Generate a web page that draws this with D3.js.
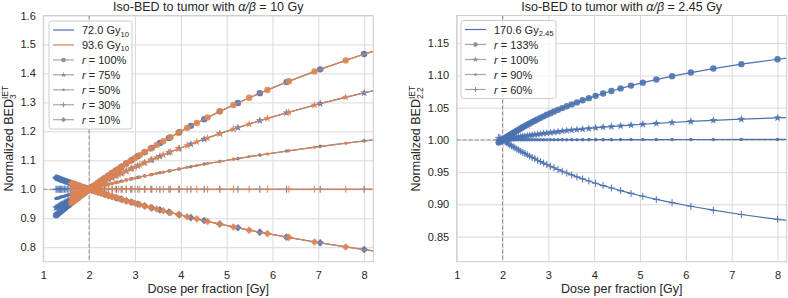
<!DOCTYPE html>
<html>
<head>
<meta charset="utf-8">
<script src="https://cdn.jsdelivr.net/npm/d3@7"></script>
<style>
  body { margin: 0; background: #fff; }
  svg { display: block; font-family: "Liberation Sans", Arial, sans-serif; }
</style>
</head>
<body>
<svg id="chart" width="788" height="298"></svg>
<script>
// ---- data ----
var xTicks = [1, 2, 3, 4, 5, 6, 7, 8];
var yTicksLeft = [0.8, 0.9, 1.0, 1.1, 1.2, 1.3, 1.4, 1.5, 1.6];
var yTicksRight = [0.85, 0.90, 0.95, 1.00, 1.05, 1.10, 1.15];

// left panel, 72.0 Gy10 schedule (dose per fraction of each marker)
var blueDose = [9.318, 8.000, 7.042, 6.307, 5.724, 5.247, 4.849, 4.511, 4.220, 3.966, 3.742, 3.544, 3.367, 3.207, 3.062, 2.931,
  2.810, 2.700, 2.598, 2.504, 2.416, 2.335, 2.259, 2.188, 2.121, 2.059, 2.000, 1.945, 1.892, 1.842, 1.795, 1.751,
  1.708, 1.668, 1.629, 1.593, 1.557, 1.524, 1.492, 1.461, 1.431, 1.403, 1.376, 1.350, 1.325, 1.300, 1.277];
var blueR100 = [1.530, 1.467, 1.414, 1.370, 1.332, 1.298, 1.269, 1.242, 1.219, 1.197, 1.177, 1.160, 1.143, 1.128, 1.114, 1.101,
  1.089, 1.077, 1.066, 1.056, 1.047, 1.038, 1.030, 1.022, 1.014, 1.007, 1.000, 0.994, 0.987, 0.981, 0.976, 0.970,
  0.965, 0.960, 0.955, 0.951, 0.946, 0.942, 0.938, 0.934, 0.930, 0.927, 0.923, 0.920, 0.916, 0.913, 0.910];
var blueR75 = [1.379, 1.333, 1.296, 1.264, 1.237, 1.213, 1.192, 1.173, 1.156, 1.141, 1.127, 1.114, 1.102, 1.091, 1.081, 1.072,
  1.063, 1.055, 1.047, 1.040, 1.034, 1.027, 1.021, 1.015, 1.010, 1.005, 1.000, 0.995, 0.991, 0.987, 0.983, 0.979,
  0.975, 0.972, 0.968, 0.965, 0.962, 0.959, 0.956, 0.953, 0.950, 0.948, 0.945, 0.943, 0.940, 0.938, 0.936];
var blueR50 = [1.189, 1.167, 1.148, 1.132, 1.118, 1.106, 1.096, 1.087, 1.078, 1.070, 1.063, 1.057, 1.051, 1.046, 1.041, 1.036,
  1.032, 1.028, 1.024, 1.020, 1.017, 1.014, 1.011, 1.008, 1.005, 1.002, 1.000, 0.998, 0.995, 0.993, 0.991, 0.989,
  0.988, 0.986, 0.984, 0.982, 0.981, 0.979, 0.978, 0.976, 0.975, 0.974, 0.973, 0.971, 0.970, 0.969, 0.968];
var blueR30 = [1, 1, 1, 1, 1, 1, 1, 1, 1, 1, 1, 1, 1, 1, 1, 1,
  1, 1, 1, 1, 1, 1, 1, 1, 1, 1, 1, 1, 1, 1, 1, 1,
  1, 1, 1, 1, 1, 1, 1, 1, 1, 1, 1, 1, 1, 1, 1];
var blueR10 = [0.763, 0.792, 0.815, 0.835, 0.852, 0.867, 0.880, 0.892, 0.902, 0.912, 0.921, 0.929, 0.936, 0.943, 0.949, 0.955,
  0.960, 0.966, 0.970, 0.975, 0.979, 0.983, 0.987, 0.990, 0.994, 0.997, 1.000, 1.003, 1.006, 1.008, 1.011, 1.013,
  1.016, 1.018, 1.020, 1.022, 1.024, 1.026, 1.028, 1.029, 1.031, 1.033, 1.034, 1.036, 1.037, 1.039, 1.040];

// left panel, 93.6 Gy10 schedule
var orangeDose = [8.454, 7.598, 6.916, 6.358, 5.890, 5.492, 5.149, 4.849, 4.584, 4.349, 4.138, 3.948, 3.775, 3.618, 3.474,
  3.341, 3.219, 3.105, 3.000, 2.902, 2.810, 2.724, 2.644, 2.568, 2.497, 2.429, 2.366, 2.305, 2.248, 2.193,
  2.141, 2.092, 2.045, 2.000, 1.957, 1.916, 1.877, 1.839, 1.802, 1.768, 1.734, 1.702, 1.671, 1.641, 1.612];
var orangeR100 = [1.490, 1.445, 1.407, 1.373, 1.343, 1.316, 1.291, 1.269, 1.248, 1.229, 1.212, 1.195, 1.180, 1.166, 1.153,
  1.141, 1.129, 1.118, 1.108, 1.098, 1.089, 1.080, 1.071, 1.063, 1.056, 1.048, 1.041, 1.035, 1.028, 1.022,
  1.016, 1.011, 1.005, 1.000, 0.995, 0.990, 0.985, 0.981, 0.977, 0.972, 0.968, 0.964, 0.961, 0.957, 0.953];
var orangeR75 = [1.350, 1.318, 1.291, 1.266, 1.245, 1.225, 1.208, 1.192, 1.177, 1.164, 1.151, 1.140, 1.129, 1.119, 1.109,
  1.101, 1.092, 1.084, 1.077, 1.070, 1.063, 1.057, 1.051, 1.045, 1.040, 1.035, 1.030, 1.025, 1.020, 1.016,
  1.012, 1.008, 1.004, 1.000, 0.996, 0.993, 0.990, 0.986, 0.983, 0.980, 0.977, 0.975, 0.972, 0.969, 0.967];
var orangeR50 = [1.175, 1.159, 1.145, 1.133, 1.122, 1.113, 1.104, 1.096, 1.089, 1.082, 1.076, 1.070, 1.064, 1.059, 1.055,
  1.050, 1.046, 1.042, 1.038, 1.035, 1.032, 1.028, 1.025, 1.023, 1.020, 1.017, 1.015, 1.012, 1.010, 1.008,
  1.006, 1.004, 1.002, 1.000, 0.998, 0.996, 0.995, 0.993, 0.992, 0.990, 0.989, 0.987, 0.986, 0.985, 0.983];
var orangeR30 = [1, 1, 1, 1, 1, 1, 1, 1, 1, 1, 1, 1, 1, 1, 1,
  1, 1, 1, 1, 1, 1, 1, 1, 1, 1, 1, 1, 1, 1, 1,
  1, 1, 1, 1, 1, 1, 1, 1, 1, 1, 1, 1, 1, 1, 1];
var orangeR10 = [0.781, 0.801, 0.818, 0.834, 0.847, 0.859, 0.870, 0.880, 0.889, 0.898, 0.905, 0.913, 0.919, 0.926, 0.932,
  0.937, 0.942, 0.947, 0.952, 0.956, 0.960, 0.964, 0.968, 0.972, 0.975, 0.978, 0.982, 0.985, 0.987, 0.990,
  0.993, 0.995, 0.998, 1.000, 1.002, 1.004, 1.006, 1.009, 1.010, 1.012, 1.014, 1.016, 1.018, 1.019, 1.021];

// right panel, 170.6 Gy2.45 schedule
var rightDose = [9.070, 8.000, 7.211, 6.599, 6.109, 5.699, 5.355, 5.060, 4.803, 4.576, 4.375, 4.194, 4.031, 3.883, 3.747, 3.623,
  3.508, 3.401, 3.303, 3.210, 3.124, 3.043, 2.967, 2.896, 2.828, 2.764, 2.704, 2.646, 2.591, 2.539, 2.489, 2.441,
  2.396, 2.352, 2.311, 2.270, 2.232, 2.195, 2.159, 2.125, 2.092, 2.060, 2.029, 1.999, 1.970, 1.942, 1.915];
var rightR133 = [1.1337, 1.1251, 1.1175, 1.1107, 1.1045, 1.0989, 1.0936, 1.0888, 1.0842, 1.0799, 1.0758, 1.0719, 1.0683, 1.0648, 1.0614, 1.0582,
  1.0551, 1.0522, 1.0493, 1.0466, 1.0440, 1.0414, 1.0389, 1.0365, 1.0342, 1.0319, 1.0298, 1.0276, 1.0256, 1.0235, 1.0216, 1.0197,
  1.0178, 1.0160, 1.0142, 1.0125, 1.0108, 1.0091, 1.0075, 1.0060, 1.0044, 1.0029, 1.0014, 1.0000, 0.9985, 0.9971, 0.9958];
var rightR100 = [1.0365, 1.0342, 1.0321, 1.0303, 1.0286, 1.0270, 1.0256, 1.0243, 1.0230, 1.0218, 1.0207, 1.0197, 1.0187, 1.0177, 1.0168, 1.0159,
  1.0151, 1.0143, 1.0135, 1.0127, 1.0120, 1.0113, 1.0106, 1.0100, 1.0093, 1.0087, 1.0081, 1.0076, 1.0070, 1.0064, 1.0059, 1.0054,
  1.0049, 1.0044, 1.0039, 1.0034, 1.0030, 1.0025, 1.0021, 1.0016, 1.0012, 1.0008, 1.0004, 1.0000, 0.9996, 0.9992, 0.9988];
var rightR90 = [1.0008, 1.0007, 1.0007, 1.0006, 1.0006, 1.0006, 1.0005, 1.0005, 1.0005, 1.0005, 1.0004, 1.0004, 1.0004, 1.0004, 1.0004, 1.0003,
  1.0003, 1.0003, 1.0003, 1.0003, 1.0003, 1.0002, 1.0002, 1.0002, 1.0002, 1.0002, 1.0002, 1.0002, 1.0001, 1.0001, 1.0001, 1.0001,
  1.0001, 1.0001, 1.0001, 1.0001, 1.0001, 1.0001, 1.0000, 1.0000, 1.0000, 1.0000, 1.0000, 1.0000, 1.0000, 1.0000, 1.0000];
var rightR60 = [0.8682, 0.8767, 0.8842, 0.8909, 0.8970, 0.9026, 0.9077, 0.9125, 0.9170, 0.9213, 0.9253, 0.9291, 0.9327, 0.9362, 0.9395, 0.9426,
  0.9457, 0.9486, 0.9514, 0.9541, 0.9567, 0.9592, 0.9617, 0.9640, 0.9663, 0.9685, 0.9707, 0.9728, 0.9748, 0.9768, 0.9788, 0.9806,
  0.9825, 0.9843, 0.9860, 0.9877, 0.9894, 0.9910, 0.9926, 0.9941, 0.9957, 0.9972, 0.9986, 1.0001, 1.0015, 1.0028, 1.0042];

var blue = "#4c72b0",
    orange = "#dd8452",
    gridColor = "#d9d9d9",
    textColor = "#262626",
    legendGray = "#a6a6a6";

var svg = d3.select("#chart");

// marker shapes, centred on 0,0
function markerPath(type, k) {
    k = k || 1;
    if (type == "o") return d3.symbol().type(d3.symbolCircle).size(Math.PI * Math.pow(3.2 * k, 2))();
    if (type == ".") return d3.symbol().type(d3.symbolCircle).size(Math.PI * Math.pow(1.8 * k, 2))();
    if (type == "D") {
        var h = 3.8 * k;
        return "M0," + (-h) + "L" + h + ",0L0," + h + "L" + (-h) + ",0Z";
    }
    if (type == "+") {
        var a = 3.5 * k;
        return "M" + (-a) + ",0H" + a + "M0," + (-a) + "V" + a;
    }
    // star
    var R = 4.2 * k, r = R * 0.4, pts = [];
    for (var i = 0; i < 10; i++) {
        var ang = -Math.PI / 2 + i * Math.PI / 5, rad = i % 2 ? r : R;
        pts.push([rad * Math.cos(ang), rad * Math.sin(ang)]);
    }
    return "M" + pts.join("L") + "Z";
}

function styleMarker(sel, type, color) {
    if (type == "+") {
        sel.attr("fill", "none").attr("stroke", color).attr("stroke-width", 1.1);
    } else {
        sel.attr("fill", color).attr("stroke", "none");
    }
}

function rLabel(text, value) {
    text.append("tspan").attr("font-style", "italic").text("r");
    text.append("tspan").text(" = " + value);
}

function drawPanel(p) {
    var g = svg.append("g");
    var x = d3.scaleLinear().domain(p.xDomain).range([p.left, p.right]);
    var y = d3.scaleLinear().domain(p.yDomain).range([p.bottom, p.top]);

    // grid
    g.append("g")
        .attr("transform", "translate(0," + p.bottom + ")")
        .call(d3.axisBottom(x).tickValues(xTicks).tickSize(-(p.bottom - p.top)).tickFormat(""))
        .call(function (a) { a.select(".domain").remove(); })
        .selectAll("line").attr("stroke", gridColor).attr("stroke-width", 1);
    g.append("g")
        .attr("transform", "translate(" + p.left + ",0)")
        .call(d3.axisLeft(y).tickValues(p.yTicks).tickSize(-(p.right - p.left)).tickFormat(""))
        .call(function (a) { a.select(".domain").remove(); })
        .selectAll("line").attr("stroke", gridColor).attr("stroke-width", 1);

    // tick labels
    var xa = g.append("g")
        .attr("transform", "translate(0," + p.bottom + ")")
        .call(d3.axisBottom(x).tickValues(xTicks).tickSize(0).tickPadding(9.5).tickFormat(d3.format("d")));
    var ya = g.append("g")
        .attr("transform", "translate(" + p.left + ",0)")
        .call(d3.axisLeft(y).tickValues(p.yTicks).tickSize(0).tickPadding(7.5).tickFormat(d3.format(p.yFormat)));
    [xa, ya].forEach(function (a) {
        a.select(".domain").remove();
        a.selectAll("text").attr("font-size", 11).attr("fill", textColor)
            .attr("font-family", "Liberation Sans, Arial, sans-serif");
    });

    // clipped plotting area
    svg.append("clipPath").attr("id", "clip" + p.id)
        .append("rect").attr("x", p.left).attr("y", p.top)
        .attr("width", p.right - p.left).attr("height", p.bottom - p.top);
    var plot = g.append("g").attr("clip-path", "url(#clip" + p.id + ")");

    // reference lines at 2 Gy and 1.0
    plot.append("line")
        .attr("x1", x(2)).attr("x2", x(2)).attr("y1", p.top).attr("y2", p.bottom)
        .attr("stroke", "#8c8c8c").attr("stroke-width", 1).attr("stroke-dasharray", "4,2");
    plot.append("line")
        .attr("x1", p.left).attr("x2", p.right).attr("y1", y(1)).attr("y2", y(1))
        .attr("stroke", "#8c8c8c").attr("stroke-width", 1).attr("stroke-dasharray", "4,2");

    var line = d3.line().x(function (d) { return x(d[0]); }).y(function (d) { return y(d[1]); });

    p.schedules.forEach(function (s) {
        s.values.forEach(function (vals, k) {
            var pts = s.dose.map(function (d, i) { return [d, vals[i]]; });
            plot.append("path")
                .attr("d", line(pts))
                .attr("fill", "none")
                .attr("stroke", s.color)
                .attr("stroke-width", 1.2);
            var m = plot.append("g").selectAll("path")
                .data(pts)
                .enter().append("path")
                .attr("transform", function (d) { return "translate(" + x(d[0]) + "," + y(d[1]) + ")"; })
                .attr("d", markerPath(p.markers[k]))
                .attr("opacity", 0.9);
            styleMarker(m, p.markers[k], s.color);
        });
    });

    // frame
    g.append("rect")
        .attr("x", p.left).attr("y", p.top)
        .attr("width", p.right - p.left).attr("height", p.bottom - p.top)
        .attr("fill", "none").attr("stroke", "#d0d0d0").attr("stroke-width", 1.1);

    // title and axis labels
    var cx = (p.left + p.right) / 2;
    var title = g.append("text")
        .attr("x", cx).attr("y", 11)
        .attr("text-anchor", "middle").attr("font-size", 12.5).attr("fill", textColor);
    title.append("tspan").text("Iso-BED to tumor with ");
    title.append("tspan").attr("font-style", "italic").text("\u03b1/\u03b2");
    title.append("tspan").text(" = " + p.titleValue);

    g.append("text")
        .attr("x", cx).attr("y", 293)
        .attr("text-anchor", "middle").attr("font-size", 12.5).attr("fill", textColor)
        .text("Dose per fraction [Gy]");

    var yl = g.append("text")
        .attr("transform", "translate(" + p.ylabelX + "," + ((p.top + p.bottom) / 2) + ") rotate(-90)")
        .attr("text-anchor", "middle").attr("font-size", 12.5).attr("fill", textColor);
    yl.append("tspan").text("Normalized BED");
    var sub = yl.append("tspan").attr("font-size", 8.5).attr("dy", 3).text(p.ylabelSub);
    var subW = sub.node().getComputedTextLength();
    yl.append("tspan").attr("font-size", 8.5).attr("dx", -subW).attr("dy", -8).text("IET");

    // legend
    var lg = g.append("g");
    lg.append("rect")
        .attr("x", p.legend.x).attr("y", p.legend.y)
        .attr("width", p.legend.w).attr("height", p.legend.h)
        .attr("rx", 2.5)
        .attr("fill", "#fff").attr("fill-opacity", 0.8)
        .attr("stroke", "#cccccc").attr("stroke-width", 1);
    p.legend.items.forEach(function (it, i) {
        var cy = p.legend.y + 9 + i * p.legend.step;
        var hx0 = p.legend.x + 4, hx1 = p.legend.x + 25;
        lg.append("line")
            .attr("x1", hx0).attr("x2", hx1).attr("y1", cy).attr("y2", cy)
            .attr("stroke", it.color || legendGray).attr("stroke-width", 1.2);
        if (it.marker) {
            var mk = lg.append("path")
                .attr("transform", "translate(" + ((hx0 + hx1) / 2) + "," + cy + ")")
                .attr("d", markerPath(it.marker, 0.7));
            styleMarker(mk, it.marker, "#909090");
        }
        var t = lg.append("text")
            .attr("x", p.legend.x + 33).attr("y", cy + 4)
            .attr("font-size", 11).attr("fill", textColor);
        if (it.sub) {
            t.append("tspan").text(it.label);
            t.append("tspan").attr("font-size", 7.7).attr("dy", 2.5).text(it.sub);
        } else {
            rLabel(t, it.label);
        }
    });
}

drawPanel({
    id: "L",
    left: 43.3, right: 373.3, top: 15.5, bottom: 261.7,
    xDomain: [1, 8.2], yDomain: [0.75, 1.6],
    yTicks: yTicksLeft, yFormat: ".1f",
    titleValue: "10 Gy",
    ylabelX: 13.3, ylabelSub: "3",
    markers: ["o", "*", ".", "+", "D"],
    schedules: [
        { color: blue, dose: blueDose, values: [blueR100, blueR75, blueR50, blueR30, blueR10] },
        { color: orange, dose: orangeDose, values: [orangeR100, orangeR75, orangeR50, orangeR30, orangeR10] }
    ],
    legend: {
        x: 49, y: 21, w: 83, h: 108, step: 14.95,
        items: [
            { color: blue, label: "72.0 Gy", sub: "10" },
            { color: orange, label: "93.6 Gy", sub: "10" },
            { marker: "o", label: "100%" },
            { marker: "*", label: "75%" },
            { marker: ".", label: "50%" },
            { marker: "+", label: "30%" },
            { marker: "D", label: "10%" }
        ]
    }
});

drawPanel({
    id: "R",
    left: 456.7, right: 786.7, top: 15.5, bottom: 261.7,
    xDomain: [1, 8.2], yDomain: [0.811, 1.193],
    yTicks: yTicksRight, yFormat: ".2f",
    titleValue: "2.45 Gy",
    ylabelX: 420, ylabelSub: "2.2",
    markers: ["o", "*", ".", "+"],
    schedules: [
        { color: blue, dose: rightDose, values: [rightR133, rightR100, rightR90, rightR60] }
    ],
    legend: {
        x: 461, y: 20.5, w: 95, h: 78, step: 15,
        items: [
            { color: blue, label: "170.6 Gy", sub: "2.45" },
            { marker: "o", label: "133%" },
            { marker: "*", label: "100%" },
            { marker: ".", label: "90%" },
            { marker: "+", label: "60%" }
        ]
    }
});
</script>
</body>
</html>
